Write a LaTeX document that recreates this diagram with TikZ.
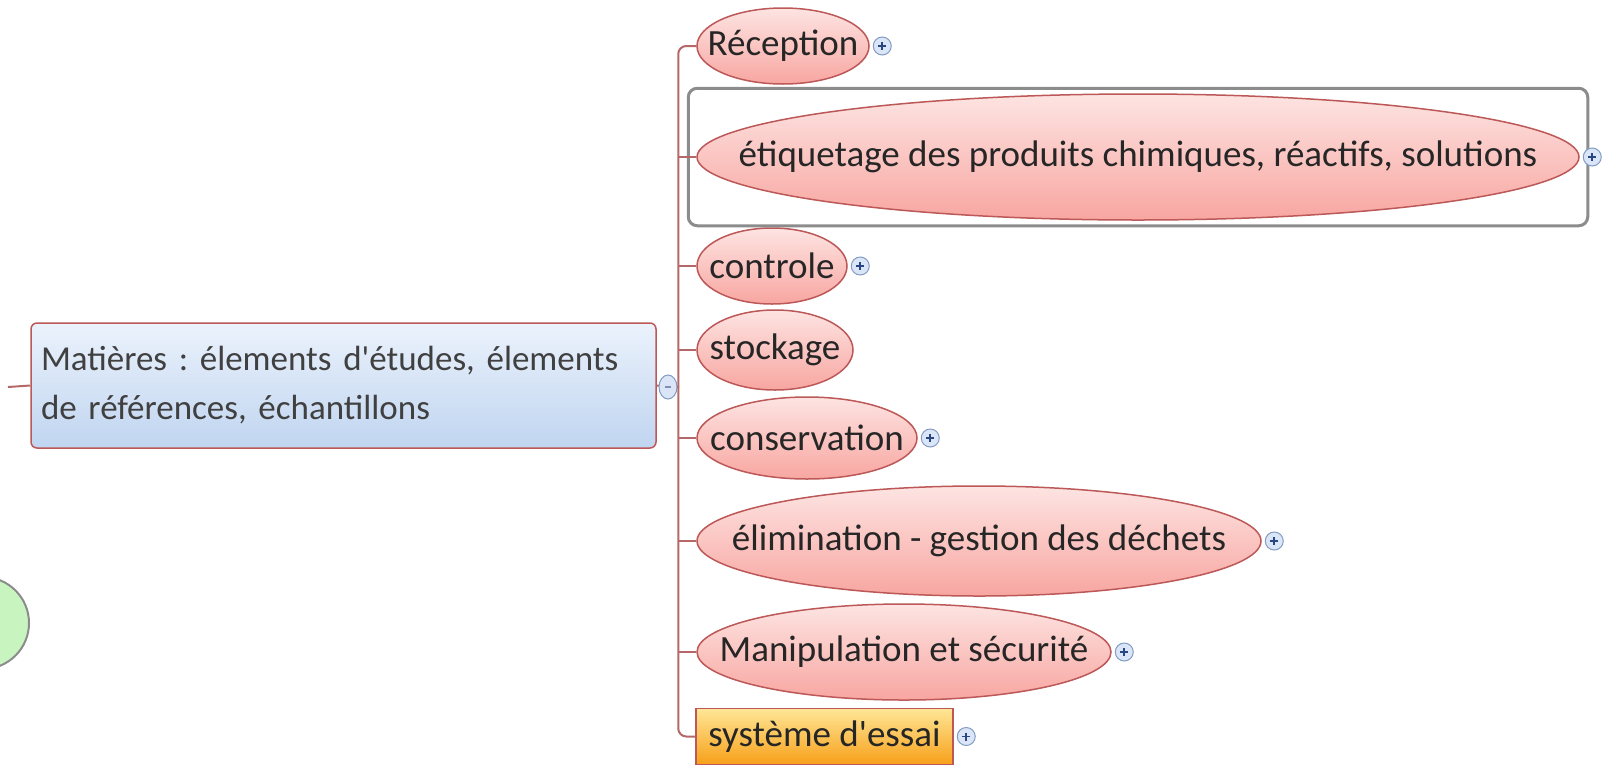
\documentclass[tikz,border=0pt]{standalone}
\usepackage{fontspec}
\setmainfont{Carlito}
\usetikzlibrary{shapes.geometric,fit}

\definecolor{rimred}{RGB}{188,88,88}
\definecolor{linkred}{RGB}{182,104,104}
\definecolor{pinktop}{RGB}{253,228,226}
\definecolor{pinkbot}{RGB}{248,166,161}
\definecolor{bluetop}{RGB}{235,242,252}
\definecolor{bluebot}{RGB}{192,213,240}
\definecolor{orangetop}{RGB}{255,230,150}
\definecolor{orangebot}{RGB}{247,160,25}
\definecolor{icontop}{RGB}{218,230,247}
\definecolor{iconrim}{RGB}{130,155,195}
\definecolor{icondark}{RGB}{40,70,130}
\definecolor{greenfill}{RGB}{200,244,192}

% text that does not widen its ellipse
\newcommand{\zw}[1]{\makebox[0pt]{#1}}
\frenchspacing

\begin{document}
\begin{tikzpicture}[x=1pt,y=-1pt,
  every node/.style={font=\fontsize{37}{49}\selectfont, text=black!85},
  topic/.style={ellipse, draw=rimred, line width=1.5, top color=pinktop, bottom color=pinkbot, inner sep=0},
  mainbox/.style={rectangle, rounded corners=6, draw=rimred, line width=1.5, top color=bluetop, bottom color=bluebot,
    font=\fontsize{35}{49}\selectfont, text width=605, align=left, inner xsep=10, minimum height=125, text=black!75},
  trialbox/.style={rectangle, draw=rimred, line width=1.5, top color=orangetop, bottom color=orangebot,
    minimum width=257, minimum height=56, inner sep=0},
  branch/.style={draw=linkred, line width=2},
  plusicon/.style={circle, draw=iconrim, fill=icontop, minimum size=18, inner sep=0, line width=1,
    path picture={\draw[icondark, line width=1.6] (path picture bounding box.center) ++(-4,0) -- ++(8,0)
      (path picture bounding box.center) ++(0,-4) -- ++(0,8);}},
  minusicon/.style={ellipse, draw=iconrim, fill=icontop, minimum width=18, minimum height=24, inner sep=0, line width=1,
    path picture={\draw[icondark!60, line width=1.2] (path picture bounding box.center) ++(-3,0) -- ++(6,0);}},
  selbox/.style={rectangle, draw=black!45, line width=3, rounded corners=9}]

\useasboundingbox (0,0) rectangle (1608,764);

% partly hidden neighbour
\node[circle, draw=black!45, line width=2, fill=greenfill, minimum size=92] (side) at (-17,623) {};

% central topic
\node[mainbox] (mat) at (343.5,385.5) {Matières : élements d\textquotesingle études, élements\\de références, échantillons};
\coordinate (in) at (8,387);
\coordinate (hub) at (679,387);
\draw[branch] (in) -- (mat.west);
\draw[branch] (mat.east) -- (hub);
\node[minusicon] (fold) at (668,387) {};

% sub topics
\node[topic, minimum width=172, minimum height=76] (rec) at (783,46) {\zw{Réception}};
\node[topic, minimum width=882, minimum height=126] (etiq) at (1138,157) {\zw{étiquetage des produits chimiques, réactifs, solutions}};
\node[topic, minimum width=150, minimum height=76] (ctrl) at (772,266) {\zw{controle}};
\node[topic, minimum width=156, minimum height=80] (stock) at (775,350) {\zw{stockage}};
\node[topic, minimum width=220, minimum height=82] (cons) at (807,438) {\zw{conservation}};
\node[topic, minimum width=564, minimum height=110] (elim) at (979,541) {\zw{élimination - gestion des déchets}};
\node[topic, minimum width=414, minimum height=96] (manip) at (904,652) {\zw{Manipulation et sécurité}};
\node[trialbox] (essai) at (824.5,736.5) {système d\textquotesingle essai};

\node[selbox, fit=(etiq), inner xsep=8, inner ysep=5] (sel) {};

% links
\draw[branch, rounded corners=8] (rec.west) -- ++(-18,0) |- (essai.west);
\foreach \t in {etiq,ctrl,stock,cons,elim,manip}
  \draw[branch] (\t.west) -- ++(-18,0);

% expand markers
\foreach \t in {rec,etiq,ctrl,cons,elim,manip,essai}
  \node[plusicon, anchor=west] (\t-p) at ([xshift=3]\t.east) {};

\end{tikzpicture}
\end{document}
